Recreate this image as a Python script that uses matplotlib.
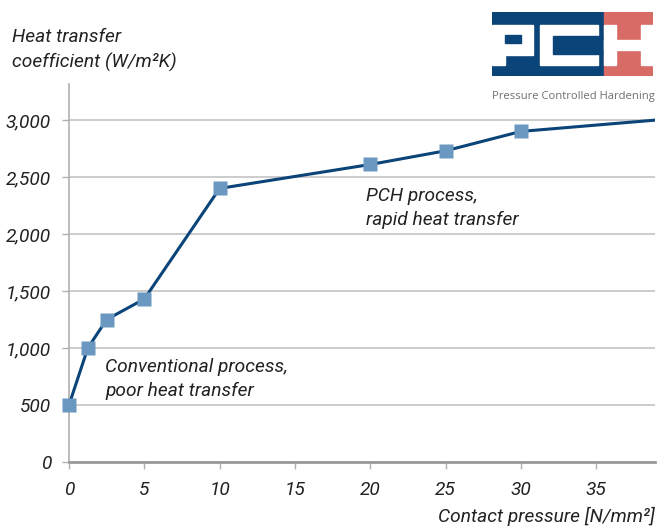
import matplotlib.pyplot as plt
from matplotlib.patches import Rectangle
from matplotlib.ticker import FuncFormatter

# contact pressure [N/mm2] vs heat transfer coefficient [W/m2K]
pressure = [0, 1.25, 2.5, 5, 10, 20, 25, 30, 39]
htc = [500, 1000, 1250, 1430, 2400, 2610, 2730, 2900, 3000]
x_ticks = [0, 5, 10, 15, 20, 25, 30, 35]
y_ticks = [0, 500, 1000, 1500, 2000, 2500, 3000]

W, H = 659, 526
plt.rcParams['font.family'] = ['Roboto', 'DejaVu Sans']
txt = '#222222'
fs = 13.8

fig = plt.figure(figsize=(W / 100, H / 100), dpi=100)
ax = fig.add_axes([69 / W, 1 - 462 / H, (655 - 69) / W, (462 - 84) / H])

ax.plot(pressure, htc, color='#0b4478', lw=2.2, zorder=3)
ax.plot(pressure[:-1], htc[:-1], ls='none', marker='s', ms=10.5,
        color='#6b98c0', mec='none', zorder=4, clip_on=False)

ax.set_xlim(0, 38.9)
ax.set_ylim(0, 3316)
ax.set_xticks(x_ticks)
ax.set_yticks(y_ticks)
ax.yaxis.set_major_formatter(FuncFormatter(lambda v, p: f'{int(v):,}'))
ax.grid(axis='y', color='#c4c4c4', lw=1.2)
ax.set_axisbelow(True)

for s in ['top', 'right']:
    ax.spines[s].set_visible(False)
ax.spines['left'].set_color('#b0b0b0')
ax.spines['left'].set_linewidth(1.2)
ax.spines['bottom'].set_color('#9a9a9a')
ax.spines['bottom'].set_linewidth(2)

ax.tick_params(axis='x', length=5, width=1, color='#b0b0b0', pad=9,
               labelsize=fs, labelcolor=txt)
ax.tick_params(axis='y', length=5, width=1, color='#b0b0b0', pad=8,
               labelsize=fs, labelcolor=txt)
for lab in ax.get_xticklabels() + ax.get_yticklabels():
    lab.set_style('italic')

ax.text(2.4, 730, 'Conventional process,\npoor heat transfer', ha='left',
        va='center', fontsize=fs, style='italic', color=txt, linespacing=1.42)
ax.text(19.7, 2230, 'PCH process,\nrapid heat transfer', ha='left',
        va='center', fontsize=fs, style='italic', color=txt, linespacing=1.42)

fig.text(12 / W, 1 - 50 / H, 'Heat transfer\ncoefficient (W/m²K)', ha='left',
         va='center', fontsize=fs, style='italic', color=txt, linespacing=1.42)
fig.text(655 / W, 1 - 516 / H, 'Contact pressure [N/mm²]', ha='right',
         va='center', fontsize=fs, style='italic', color=txt)

# logo, drawn in pixel coordinates
lg = fig.add_axes([492 / W, 1 - 76 / H, (653 - 492) / W, (76 - 12) / H])
lg.set_xlim(492, 653)
lg.set_ylim(76, 12)
lg.axis('off')
blue, red = '#0b4478', '#d86b66'
lg.add_patch(Rectangle((492, 12), 112, 64, color=blue))
lg.add_patch(Rectangle((604, 12), 49, 64, color=red))
# P
lg.add_patch(Rectangle((492, 25), 41, 30, color='white'))
lg.add_patch(Rectangle((492, 55), 13, 10, color='white'))
lg.add_patch(Rectangle((505, 35), 16, 8, color=blue))
# C
lg.add_patch(Rectangle((540, 25), 58, 40, color='white'))
lg.add_patch(Rectangle((553, 36), 51, 18, color=blue))
# H
lg.add_patch(Rectangle((604, 25), 12, 40, color='white'))
lg.add_patch(Rectangle((641, 25), 12, 40, color='white'))
lg.add_patch(Rectangle((604, 40), 49, 10, color='white'))

fig.text(655 / W, 1 - 97 / H, 'Pressure Controlled Hardening', ha='right',
         va='center', fontsize=8.1, color='#707070', family='Open Sans')

fig.savefig('out.png', dpi=100)
